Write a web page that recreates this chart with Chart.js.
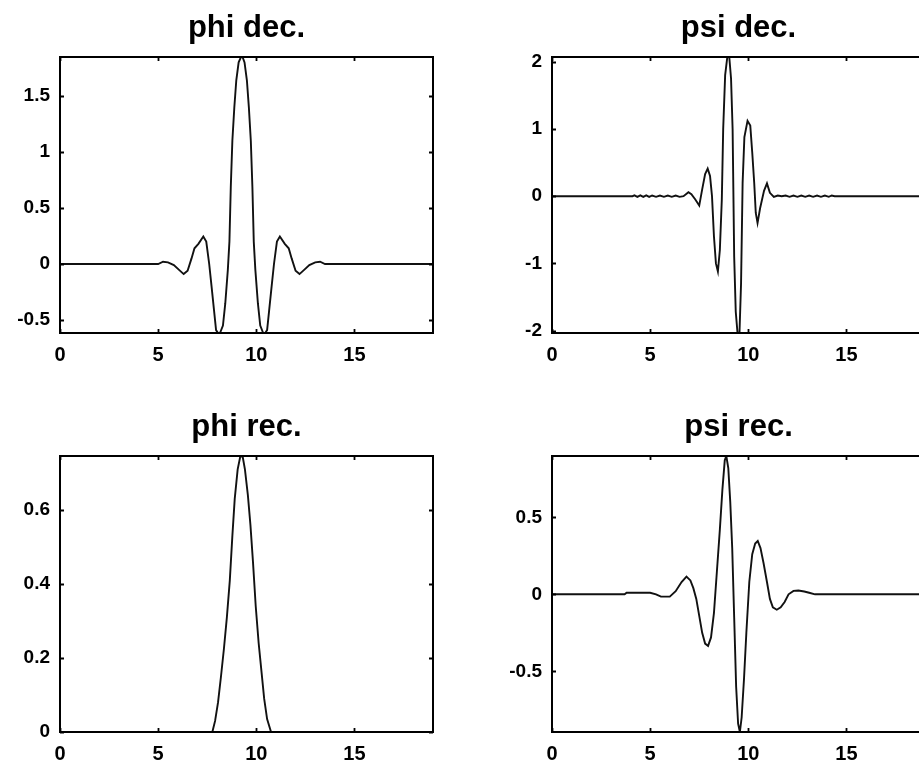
<!DOCTYPE html>
<html>
<head>
<meta charset="utf-8">
<script src="https://cdn.jsdelivr.net/npm/chart.js@4/dist/chart.umd.min.js"></script>
<style>
  html, body { margin: 0; padding: 0; background: #fff; overflow: hidden; width: 919px; height: 766px; }
  canvas { position: absolute; }
</style>
</head>
<body>
<canvas id="c1" width="459" height="380" style="left:0px;top:0px"></canvas>
<canvas id="c2" width="459" height="380" style="left:492px;top:0px"></canvas>
<canvas id="c3" width="459" height="380" style="left:0px;top:399px"></canvas>
<canvas id="c4" width="459" height="380" style="left:492px;top:399px"></canvas>
<script>
// ---- titles ----
const titles = ["phi dec.", "psi dec.", "phi rec.", "psi rec."];

// ---- tick values ----
const xTicks = [0, 5, 10, 15];
const xRange = [0, 19];
const phiDecTicks = [-0.5, 0, 0.5, 1, 1.5];
const psiDecTicks = [-2, -1, 0, 1, 2];
const phiRecTicks = [0, 0.2, 0.4, 0.6];
const psiRecTicks = [-0.5, 0, 0.5];

// ---- y axis limits (tight to data) ----
const phiDecRange = [-0.616, 1.848];
const psiDecRange = [-2.035, 2.07];
const phiRecRange = [0, 0.746];
const psiRecRange = [-0.894, 0.898];

// ---- phi dec. ----
const phiDecX = [0, 5.0, 5.25, 5.5, 5.8, 6.05, 6.3, 6.5, 6.7, 6.85, 7.05, 7.3, 7.45, 7.6, 7.72, 7.85, 7.95, 8.05, 8.15, 8.3, 8.42, 8.55, 8.63, 8.7, 8.78, 8.88, 8.98, 9.1, 9.22, 9.3, 9.4, 9.52, 9.62, 9.72, 9.8, 9.87, 9.95, 10.08, 10.2, 10.35, 10.45, 10.55, 10.65, 10.78, 10.9, 11.05, 11.2, 11.45, 11.65, 11.8, 12.0, 12.2, 12.45, 12.7, 13.0, 13.25, 13.5, 19];
const phiDecY = [0, 0, 0.02, 0.015, -0.01, -0.05, -0.09, -0.06, 0.05, 0.14, 0.18, 0.245, 0.2, 0.0, -0.2, -0.42, -0.59, -0.616, -0.616, -0.55, -0.35, -0.05, 0.2, 0.69, 1.1, 1.4, 1.64, 1.8, 1.848, 1.848, 1.8, 1.64, 1.4, 1.1, 0.69, 0.2, -0.05, -0.35, -0.55, -0.616, -0.616, -0.59, -0.42, -0.2, 0.0, 0.2, 0.245, 0.18, 0.14, 0.05, -0.06, -0.09, -0.05, -0.01, 0.015, 0.02, 0, 0];

// ---- psi dec. ----
const psiDecX = [0, 4.1, 4.2, 4.35, 4.5, 4.65, 4.8, 4.95, 5.1, 5.3, 5.5, 5.7, 5.9, 6.1, 6.3, 6.5, 6.7, 6.95, 7.1, 7.3, 7.5, 7.65, 7.8, 7.93, 8.05, 8.15, 8.25, 8.35, 8.45, 8.55, 8.65, 8.72, 8.82, 8.93, 9.03, 9.12, 9.2, 9.28, 9.36, 9.45, 9.55, 9.63, 9.71, 9.8, 9.96, 10.1, 10.2, 10.3, 10.38, 10.47, 10.6, 10.8, 10.95, 11.1, 11.3, 11.5, 11.7, 11.9, 12.1, 12.3, 12.5, 12.7, 12.9, 13.1, 13.3, 13.5, 13.7, 13.9, 14.1, 14.25, 14.4, 19];
const psiDecY = [0, 0, 0.012, -0.01, 0.012, -0.01, 0.012, -0.01, 0.01, -0.01, 0.01, -0.01, 0.01, -0.01, 0.01, -0.01, 0.0, 0.06, 0.03, -0.05, -0.14, 0.1, 0.33, 0.41, 0.3, 0.0, -0.6, -1.0, -1.12, -0.8, -0.05, 1.0, 1.8, 2.07, 2.07, 1.75, 1.0, -0.9, -1.72, -2.035, -2.035, -1.3, 0.2, 0.88, 1.12, 1.05, 0.65, 0.2, -0.25, -0.4, -0.18, 0.08, 0.19, 0.05, -0.01, 0.01, 0.0, 0.01, -0.01, 0.01, -0.01, 0.01, -0.01, 0.01, -0.01, 0.01, -0.01, 0.01, -0.01, 0.01, 0, 0];

// ---- phi rec. ----
const phiRecX = [0, 7.76, 7.9, 8.05, 8.2, 8.35, 8.5, 8.65, 8.78, 8.9, 9.05, 9.18, 9.3, 9.42, 9.57, 9.7, 9.83, 9.97, 10.12, 10.27, 10.4, 10.55, 10.75, 19];
const phiRecY = [0, 0, 0.03, 0.08, 0.15, 0.225, 0.31, 0.41, 0.53, 0.63, 0.71, 0.744, 0.746, 0.71, 0.64, 0.56, 0.46, 0.34, 0.24, 0.16, 0.09, 0.035, 0, 0];

// ---- psi rec. ----
const psiRecX = [0, 3.7, 3.8, 5.0, 5.3, 5.55, 6.0, 6.3, 6.6, 6.85, 7.05, 7.2, 7.35, 7.5, 7.65, 7.8, 7.95, 8.1, 8.25, 8.4, 8.55, 8.68, 8.8, 8.88, 8.98, 9.08, 9.18, 9.28, 9.38, 9.48, 9.57, 9.66, 9.78, 9.9, 10.05, 10.2, 10.35, 10.48, 10.62, 10.78, 10.95, 11.1, 11.25, 11.45, 11.65, 11.85, 12.05, 12.3, 12.55, 12.85, 13.1, 13.4, 19];
const psiRecY = [0, 0, 0.01, 0.01, 0.0, -0.015, -0.015, 0.02, 0.08, 0.115, 0.09, 0.04, -0.03, -0.14, -0.25, -0.32, -0.335, -0.28, -0.12, 0.15, 0.42, 0.68, 0.87, 0.898, 0.82, 0.6, 0.3, -0.15, -0.6, -0.84, -0.894, -0.8, -0.55, -0.25, 0.08, 0.26, 0.33, 0.346, 0.3, 0.2, 0.08, -0.03, -0.085, -0.1, -0.085, -0.05, 0.0, 0.022, 0.025, 0.018, 0.01, 0.0, 0];

Chart.defaults.font.family = "'Liberation Sans', Arial, Helvetica, sans-serif";
Chart.defaults.font.weight = 'bold';
Chart.defaults.color = '#000';

const framePlugin = {
  id: 'frame',
  afterDatasetsDraw(chart) {
    const { ctx, chartArea: a, scales } = chart;
    ctx.save();
    ctx.strokeStyle = '#000';
    ctx.lineWidth = 1.8;
    const tl = 4;
    ctx.beginPath();
    scales.x.ticks.forEach(t => {
      const px = Math.round(scales.x.getPixelForValue(t.value)) + 0.5;
      ctx.moveTo(px, a.bottom); ctx.lineTo(px, a.bottom - tl);
      ctx.moveTo(px, a.top); ctx.lineTo(px, a.top + tl);
    });
    scales.y.ticks.forEach(t => {
      const py = Math.round(scales.y.getPixelForValue(t.value)) + 0.5;
      ctx.moveTo(a.left, py); ctx.lineTo(a.left + tl, py);
      ctx.moveTo(a.right, py); ctx.lineTo(a.right - tl, py);
    });
    ctx.stroke();
    ctx.lineWidth = 2;
    ctx.strokeRect(a.left, a.top, a.right - a.left, a.bottom - a.top);
    ctx.restore();
  }
};

function makeChart(id, title, xs, ys, yTicks, yRange) {
  const pts = xs.map((x, i) => ({ x: x, y: ys[i] }));
  new Chart(document.getElementById(id), {
    type: 'line',
    data: { datasets: [{ data: pts, borderColor: '#111', borderWidth: 1.9, pointRadius: 0, tension: 0, fill: false }] },
    options: {
      responsive: false,
      animation: false,
      events: [],
      layout: { padding: { top: 0, right: 26, bottom: 0, left: 0 } },
      plugins: {
        legend: { display: false },
        tooltip: { enabled: false },
        title: {
          display: true, text: title, color: '#000', fullSize: false,
          font: { size: 31, weight: 'bold', lineHeight: 1.2 },
          padding: { top: 10, bottom: 9.8 }
        }
      },
      scales: {
        x: {
          type: 'linear', min: xRange[0], max: xRange[1],
          grid: { display: false, drawTicks: false },
          border: { display: false },
          afterBuildTicks: s => { s.ticks = xTicks.map(v => ({ value: v })); },
          afterFit: s => { s.height = 47; },
          ticks: { padding: 10, maxRotation: 0, autoSkip: false, font: { size: 20, weight: 'bold' }, callback: v => String(v) }
        },
        y: {
          type: 'linear', min: yRange[0], max: yRange[1],
          grid: { display: false, drawTicks: false },
          border: { display: false },
          afterBuildTicks: s => { s.ticks = yTicks.map(v => ({ value: v })); },
          afterFit: s => { s.width = 60; },
          ticks: { padding: 10, autoSkip: false, font: { size: 19, weight: 'bold' }, callback: v => String(v) }
        }
      }
    },
    plugins: [framePlugin]
  });
}

makeChart('c1', titles[0], phiDecX, phiDecY, phiDecTicks, phiDecRange);
makeChart('c2', titles[1], psiDecX, psiDecY, psiDecTicks, psiDecRange);
makeChart('c3', titles[2], phiRecX, phiRecY, phiRecTicks, phiRecRange);
makeChart('c4', titles[3], psiRecX, psiRecY, psiRecTicks, psiRecRange);
</script>
</body>
</html>
